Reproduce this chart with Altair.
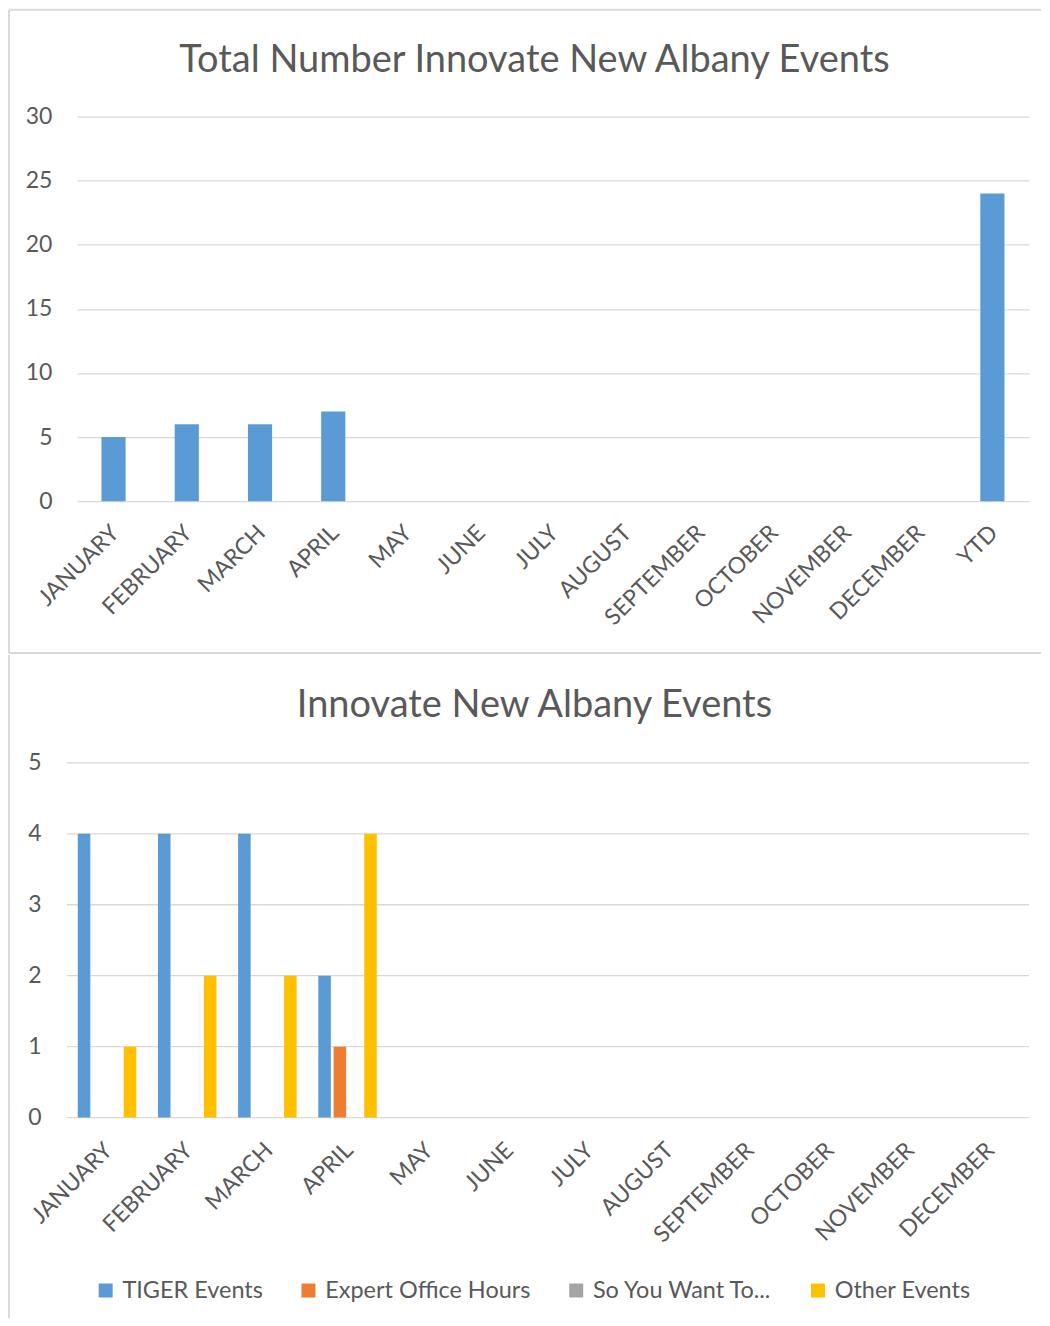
import altair as alt
import pandas as pd

FONT = "Lato"
TEXT = "#595959"
GRID = "#D9D9D9"

# ---- data ----
months = ["JANUARY", "FEBRUARY", "MARCH", "APRIL", "MAY", "JUNE", "JULY",
          "AUGUST", "SEPTEMBER", "OCTOBER", "NOVEMBER", "DECEMBER"]
total_categories = months + ["YTD"]
total_values = [5, 6, 6, 7, None, None, None, None, None, None, None, None, 24]
top_ticks = [0, 5, 10, 15, 20, 25, 30]

series_names = ["TIGER Events", "Expert Office Hours", "So You Want To...", "Other Events"]
series_colors = ["#5B9BD5", "#ED7D31", "#A5A5A5", "#FFC000"]
tiger_events = [4, 4, 4, 2, None, None, None, None, None, None, None, None]
expert_hours = [0, 0, 0, 1, None, None, None, None, None, None, None, None]
so_you_want = [0, 0, 0, 0, None, None, None, None, None, None, None, None]
other_events = [1, 2, 2, 4, None, None, None, None, None, None, None, None]
bottom_ticks = [0, 1, 2, 3, 4, 5]

top_title = "Total Number Innovate New Albany Events"
bottom_title = "Innovate New Albany Events"

df_total = pd.DataFrame({"month": total_categories, "value": total_values})
rows = []
for name, vals in zip(series_names, [tiger_events, expert_hours, so_you_want, other_events]):
    for m, v in zip(months, vals):
        rows.append({"month": m, "series": name, "value": v})
df_series = pd.DataFrame(rows)
df_bottom_ticks = pd.DataFrame({"value": bottom_ticks})
one = pd.DataFrame({"k": [0]})

axis_common = dict(labelFont=FONT, labelColor=TEXT, titleFont=FONT)


def rule(**enc):
    return alt.Chart(one).mark_rule(color=GRID, strokeWidth=2).encode(**enc)


def title_text(txt, x, y):
    return alt.Chart(one).mark_text(
        font=FONT, fontSize=38, color=TEXT, align="center", baseline="alphabetic"
    ).encode(x=alt.value(x), y=alt.value(y), text=alt.value(txt))


# ---- top chart (plot origin at page 75,115) ----
TW, TH = 953, 385
top_bars = alt.Chart(df_total).mark_bar(color="#5B9BD5").encode(
    x=alt.X("month:N", sort=total_categories,
            scale=alt.Scale(domain=total_categories, paddingInner=0.67, paddingOuter=0.335),
            axis=alt.Axis(title=None, labelAngle=-45, labelFontSize=23, labelPadding=20,
                          labelOffset=-6, domain=False, ticks=False, grid=False,
                          **axis_common)),
    y=alt.Y("value:Q", scale=alt.Scale(domain=[0, 30], nice=False),
            axis=alt.Axis(title=None, values=top_ticks, format="d", labelFontSize=23,
                          labelPadding=25, domain=False, ticks=False, grid=True,
                          gridColor=GRID, gridWidth=1.3, **axis_common)),
)

top = alt.layer(
    rule(x=alt.value(-68), x2=alt.value(965), y=alt.value(-107)),
    rule(x=alt.value(-68), x2=alt.value(965), y=alt.value(537)),
    rule(x=alt.value(-68), y=alt.value(-107), y2=alt.value(537)),
    title_text(top_title, 458, -45),
    top_bars,
).properties(width=TW, height=TH)

# ---- bottom chart (group origin aligned at page 75,760; drawn from page x 65) ----
BW, BH = 953, 355
bottom_bars = alt.Chart(df_series).mark_bar().encode(
    x=alt.X("month:N", sort=months,
            scale=alt.Scale(domain=months, range=[-10, BW], paddingInner=0.27,
                            paddingOuter=0.135),
            axis=alt.Axis(title=None, labelAngle=-45, labelFontSize=23, labelPadding=21,
                          labelOffset=-6, domain=False, ticks=False, grid=False,
                          **axis_common)),
    xOffset=alt.XOffset("series:N", sort=series_names,
                        scale=alt.Scale(domain=series_names, paddingInner=0.18, paddingOuter=0)),
    y=alt.Y("value:Q", scale=alt.Scale(domain=[0, 5], nice=False),
            axis=alt.Axis(title=None, values=bottom_ticks, format="d", labelFontSize=23,
                          labelPadding=36, domain=False, ticks=False, grid=False,
                          **axis_common)),
    color=alt.Color("series:N", sort=series_names,
                    scale=alt.Scale(domain=series_names, range=series_colors),
                    legend=alt.Legend(title=None, orient="none", direction="horizontal",
                                      legendX=17, legendY=1163, symbolType="square",
                                      symbolSize=196, symbolStrokeWidth=0,
                                      labelFont=FONT, labelFontSize=23.5, labelColor=TEXT,
                                      labelOffset=5, labelLimit=400, columnPadding=33,
                                      padding=0)),
)
bottom_grid = alt.Chart(df_bottom_ticks).mark_rule(color=GRID, strokeWidth=1.3).encode(
    y=alt.Y("value:Q"), x=alt.value(-10), x2=alt.value(BW))

bottom = alt.layer(
    rule(x=alt.value(-68), y=alt.value(-108), y2=alt.value(556)),
    title_text(bottom_title, 458, -46),
    bottom_grid,
    bottom_bars,
).properties(width=BW, height=BH)

chart = alt.concat(top, bottom, columns=1, spacing=0, bounds="full").properties(
    padding=0, background="white"
).configure_view(stroke=None)

chart.save("out.html", embed_options={"renderer": "svg", "actions": False})
